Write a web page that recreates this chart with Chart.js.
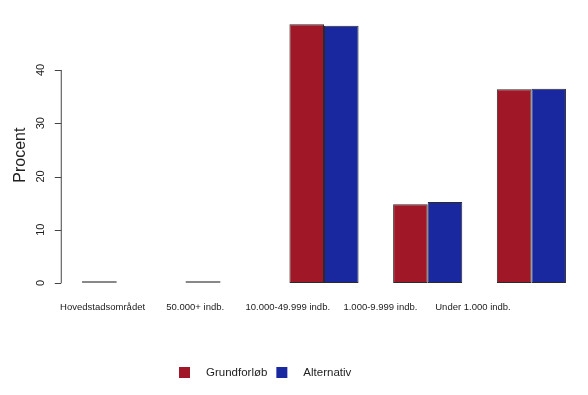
<!DOCTYPE html>
<html>
<head>
<meta charset="utf-8">
<script src="https://cdn.jsdelivr.net/npm/chart.js@4"></script>
<style>
  html, body { margin: 0; padding: 0; background: #fff; }
  #wrap { width: 588px; height: 395px; }
</style>
</head>
<body>
<div id="wrap"><canvas id="bars"></canvas></div>
<script>
const categories = ['Hovedstadsområdet', '50.000+ indb.', '10.000-49.999 indb.', '1.000-9.999 indb.', 'Under 1.000 indb.'];
const grundforloeb = [0, 0, 48.6, 14.8, 36.4];
const alternativ = [null, null, 48.3, 15.2, 36.5];
const yTicks = [0, 10, 20, 30, 40];

const RED = '#A01828';
const BLUE = '#1A28A0';
const FONT = '"Liberation Sans", Arial, sans-serif';

// R-style axis, category labels and legend drawn on top of the chart
const rAxis = {
    id: 'rAxis',
    afterDraw(chart) {
        const c = chart.ctx;
        const y = chart.scales.y;
        const x = chart.scales.x;
        const area = chart.chartArea;
        const ax = area.left - 4;
        c.save();
        c.strokeStyle = '#444';
        c.lineWidth = 1;
        c.beginPath();
        c.moveTo(ax + 0.5, y.getPixelForValue(yTicks[0]));
        c.lineTo(ax + 0.5, y.getPixelForValue(yTicks[yTicks.length - 1]));
        yTicks.forEach(v => {
            const py = Math.round(y.getPixelForValue(v)) + 0.5;
            c.moveTo(ax + 0.5, py);
            c.lineTo(ax - 6, py);
        });
        c.stroke();

        c.fillStyle = '#222';
        c.font = '11px ' + FONT;
        c.textAlign = 'center';
        c.textBaseline = 'middle';
        yTicks.forEach(v => {
            c.save();
            c.translate(ax - 20, y.getPixelForValue(v));
            c.rotate(-Math.PI / 2);
            c.fillText(String(v), 0, 0);
            c.restore();
        });
        c.save();
        c.font = '16px ' + FONT;
        c.translate(21, y.getPixelForValue(24));
        c.rotate(-Math.PI / 2);
        c.fillText('Procent', 0, 0);
        c.restore();

        c.font = '9.5px ' + FONT;
        categories.forEach((lab, i) => {
            c.fillText(lab, x.getPixelForValue(i) - 14 - i * 11.1, 307);
        });

        // legend
        c.font = '11.5px ' + FONT;
        c.textAlign = 'left';
        let lx = 179;
        [['Grundforløb', RED], ['Alternativ', BLUE]].forEach(([t, col]) => {
            c.fillStyle = col;
            c.fillRect(lx, 367, 11, 11);
            lx += 11 + 16;
            c.fillStyle = '#222';
            c.fillText(t, lx, 373);
            lx += c.measureText(t).width + 9;
        });
        c.restore();
    }
};

const barChart = new Chart(document.getElementById('bars'), {
    type: 'bar',
    data: {
        labels: categories,
        datasets: [{
            label: 'Grundforløb',
            data: grundforloeb,
            backgroundColor: ctx => ctx.raw === 0 ? '#888' : RED,
            borderColor: '#2a2a2a',
            borderWidth: ctx => ctx.raw === 0 ? 0 : 1,
            borderSkipped: false,
            minBarLength: 2,
            categoryPercentage: 0.6667,
            barPercentage: 1
        }, {
            label: 'Alternativ',
            data: alternativ,
            backgroundColor: BLUE,
            borderColor: '#2a2a2a',
            borderWidth: 1,
            borderSkipped: false,
            categoryPercentage: 0.6667,
            barPercentage: 1
        }]
    },
    options: {
        responsive: true,
        maintainAspectRatio: false,
        animation: false,
        layout: { padding: { left: 64.75, right: 4.75, top: 16.75, bottom: 112 } },
        plugins: { legend: { display: false }, tooltip: { enabled: false } },
        scales: {
            x: { display: false },
            y: { display: false, min: 0, max: 50 }
        }
    },
    plugins: [rAxis]
});
</script>
</body>
</html>
